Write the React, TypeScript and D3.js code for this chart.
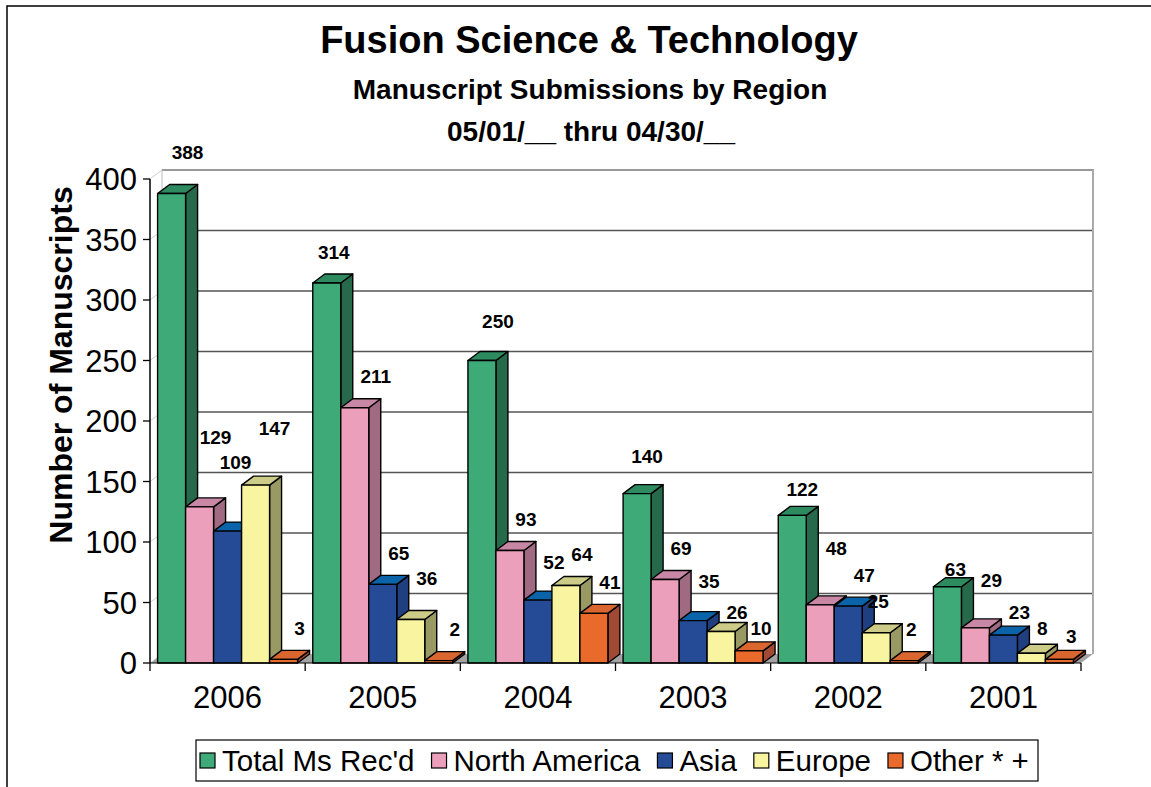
import React, { useEffect, useRef } from "react";
import * as d3 from "d3";

// chart data
const years = ["2006", "2005", "2004", "2003", "2002", "2001"];
const seriesNames = ["Total Ms Rec'd", "North America", "Asia", "Europe", "Other * +"];
const totalMs = [388, 314, 250, 140, 122, 63];
const northAmerica = [129, 211, 93, 69, 48, 29];
const asia = [109, 65, 52, 35, 47, 23];
const europe = [147, 36, 64, 26, 25, 8];
const other = [3, 2, 41, 10, 2, 3];
const yTicks = [0, 50, 100, 150, 200, 250, 300, 350, 400];

const seriesValues = [totalMs, northAmerica, asia, europe, other];

// front / top / side shades for every series
const palette = [
  { front: "#3daa78", top: "#2e8a5f", side: "#276a4b" },
  { front: "#eb9fbb", top: "#c987a6", side: "#a06a82" },
  { front: "#264b96", top: "#0b64a9", side: "#1f3f80" },
  { front: "#f8f4a0", top: "#cccc88", side: "#999964" },
  { front: "#ea6a2c", top: "#d9662e", side: "#a04a36" },
];

// hand nudges for the data labels that were moved in the original (dx, lift)
const labelNudge: Record<string, [number, number]> = {
  "2006-0": [0, 10], "2006-1": [0, 39], "2006-2": [-8, 38], "2006-3": [3, 26],
  "2005-0": [-9, 0], "2005-1": [5, 0], "2005-3": [0, 10],
  "2004-0": [0, 8], "2004-2": [0, 7],
  "2003-0": [-6, 6], "2003-2": [0, 8], "2003-3": [0, -12], "2003-4": [-4, -8],
  "2002-0": [-6, -5], "2002-1": [0, 26], "2002-3": [-14, 0], "2002-4": [-9, 0],
  "2001-0": [-8, -14], "2001-1": [0, 17], "2001-2": [0, -8], "2001-3": [-5, -6], "2001-4": [-4, -8],
};

const W = 1151;
const H = 787;
const FONT = "Arial, 'Liberation Sans', sans-serif";

const FusionChart: React.FC = () => {
  const svgRef = useRef<SVGSVGElement | null>(null);

  useEffect(() => {
    if (!svgRef.current) return;
    const svg = d3.select(svgRef.current);
    svg.selectAll("*").remove();

    const left = 150;
    const right = 1081;
    const base = 663;
    const dx = 12; // depth offset
    const dy = 9;

    const y = d3.scaleLinear().domain([0, 400]).range([base, 179]);
    const xCat = d3.scaleBand<string>().domain(years).range([left, right]);
    const gap = 7.6;
    const xSer = d3.scaleBand<string>().domain(seriesNames).range([gap, xCat.bandwidth() - gap]);
    const bw = xSer.bandwidth();

    // outer frame
    svg.append("rect")
      .attr("x", 7).attr("y", 6).attr("width", 1160).attr("height", 800)
      .attr("fill", "#fff").attr("stroke", "#000").attr("stroke-width", 1.5);

    // titles
    const t = svg.append("g").attr("font-family", FONT).attr("font-weight", "bold").attr("text-anchor", "middle");
    t.append("text").attr("x", 589).attr("y", 53).attr("font-size", 38).text("Fusion Science & Technology");
    t.append("text").attr("x", 590).attr("y", 99).attr("font-size", 28).text("Manuscript Submissions by Region");
    t.append("text").attr("x", 591).attr("y", 141).attr("font-size", 28).text("05/01/__ thru 04/30/__");

    // floor
    svg.append("polygon")
      .attr("points", [[left, base], [right, base], [right + dx, base - dy], [left + dx, base - dy]].map(p => p.join(",")).join(" "))
      .attr("fill", "#a3a3a3");

    // left side wall
    svg.append("polygon")
      .attr("points", [[left, y(400)], [left + dx, y(400) - dy], [left + dx, base - dy], [left, base]].map(p => p.join(",")).join(" "))
      .attr("fill", "#fff");
    svg.selectAll(".sidegrid").data(yTicks).enter().append("line")
      .attr("x1", left).attr("x2", left + dx)
      .attr("y1", d => y(d)).attr("y2", d => y(d) - dy)
      .attr("stroke", "#d0d0d0").attr("stroke-width", 1);

    // back wall gridlines
    svg.selectAll(".grid").data(yTicks.filter(d => d > 0 && d < 400)).enter().append("line")
      .attr("x1", left + dx).attr("x2", right + dx)
      .attr("y1", d => y(d) - dy).attr("y2", d => y(d) - dy)
      .attr("stroke", "#555").attr("stroke-width", 1.3);
    svg.append("line")
      .attr("x1", left + dx).attr("x2", right + dx + 1)
      .attr("y1", y(400) - dy).attr("y2", y(400) - dy)
      .attr("stroke", "#999").attr("stroke-width", 2);
    svg.append("line")
      .attr("x1", right + dx).attr("x2", right + dx)
      .attr("y1", y(400) - dy).attr("y2", base - dy)
      .attr("stroke", "#aaa").attr("stroke-width", 2);
    svg.append("line")
      .attr("x1", left + dx).attr("x2", left + dx)
      .attr("y1", y(400) - dy).attr("y2", base - dy)
      .attr("stroke", "#bbb").attr("stroke-width", 1);

    // bars
    const bars = svg.append("g").attr("stroke", "#000").attr("stroke-width", 1.4).attr("stroke-linejoin", "round");
    years.forEach((yr, ci) => {
      seriesNames.forEach((name, si) => {
        const v = seriesValues[si][ci];
        const xl = (xCat(yr) as number) + (xSer(name) as number);
        const yt = y(v);
        const c = palette[si];
        const g = bars.append("g");
        g.append("polygon")
          .attr("points", [[xl + bw, yt], [xl + bw + dx, yt - dy], [xl + bw + dx, base - dy], [xl + bw, base]].map(p => p.join(",")).join(" "))
          .attr("fill", c.side);
        g.append("polygon")
          .attr("points", [[xl, yt], [xl + dx, yt - dy], [xl + bw + dx, yt - dy], [xl + bw, yt]].map(p => p.join(",")).join(" "))
          .attr("fill", c.top);
        g.append("rect")
          .attr("x", xl).attr("y", yt).attr("width", bw).attr("height", base - yt)
          .attr("fill", c.front);
      });
    });

    // data labels
    const labels = svg.append("g").attr("font-family", FONT).attr("font-weight", "bold")
      .attr("font-size", 19).attr("text-anchor", "middle");
    years.forEach((yr, ci) => {
      seriesNames.forEach((name, si) => {
        const v = seriesValues[si][ci];
        const xl = (xCat(yr) as number) + (xSer(name) as number);
        const [ndx, lift] = labelNudge[`${yr}-${si}`] || [0, 0];
        labels.append("text")
          .attr("x", xl + bw + 2 + ndx)
          .attr("y", y(v) - dy - 22 - lift)
          .attr("dy", "0.35em")
          .text(v);
      });
    });

    // value axis
    svg.append("line").attr("x1", left).attr("x2", left).attr("y1", y(400)).attr("y2", base)
      .attr("stroke", "#000").attr("stroke-width", 1.5);
    svg.selectAll(".ytick").data(yTicks).enter().append("line")
      .attr("x1", left - 7).attr("x2", left).attr("y1", d => y(d)).attr("y2", d => y(d))
      .attr("stroke", "#000").attr("stroke-width", 1.3);
    svg.append("g").attr("font-family", FONT).attr("font-size", 31).attr("text-anchor", "end")
      .selectAll("text").data(yTicks).enter().append("text")
      .attr("x", 137).attr("y", d => y(d)).attr("dy", "0.36em").text(d => d);

    // category axis
    svg.append("line").attr("x1", left).attr("x2", right).attr("y1", base).attr("y2", base)
      .attr("stroke", "#000").attr("stroke-width", 1);
    const bounds = years.map(d => xCat(d) as number).concat([right]);
    svg.selectAll(".xtick").data(bounds).enter().append("line")
      .attr("x1", d => d).attr("x2", d => d).attr("y1", base).attr("y2", base + 8)
      .attr("stroke", "#000").attr("stroke-width", 1.3);
    svg.append("g").attr("font-family", FONT).attr("font-size", 31).attr("text-anchor", "middle")
      .selectAll("text").data(years).enter().append("text")
      .attr("x", d => (xCat(d) as number) + xCat.bandwidth() / 2).attr("y", 708).text(d => d);

    // value axis title
    svg.append("text")
      .attr("transform", "translate(72,365) rotate(-90)")
      .attr("font-family", FONT).attr("font-weight", "bold").attr("font-size", 32)
      .attr("text-anchor", "middle").text("Number of Manuscripts");

    // legend
    const lg = svg.append("g");
    lg.append("rect").attr("x", 196).attr("y", 740).attr("width", 842).attr("height", 41)
      .attr("fill", "#fff").attr("stroke", "#000").attr("stroke-width", 1.2);
    let cx = 200;
    seriesNames.forEach((name, si) => {
      lg.append("rect").attr("x", cx).attr("y", 753).attr("width", 15).attr("height", 15)
        .attr("fill", palette[si].front).attr("stroke", "#000").attr("stroke-width", 1.2);
      const txt = lg.append("text").attr("x", cx + 22).attr("y", 771)
        .attr("font-family", FONT).attr("font-size", 29.5).text(name);
      const len = (txt.node() as SVGTextElement).getComputedTextLength();
      cx += 22 + len + 17;
    });
  }, []);

  return (
    <svg ref={svgRef} width={W} height={H}
      style={{ position: "absolute", left: 0, top: 0, background: "#fff" }} />
  );
};

export default function App() {
  return <FusionChart />;
}
